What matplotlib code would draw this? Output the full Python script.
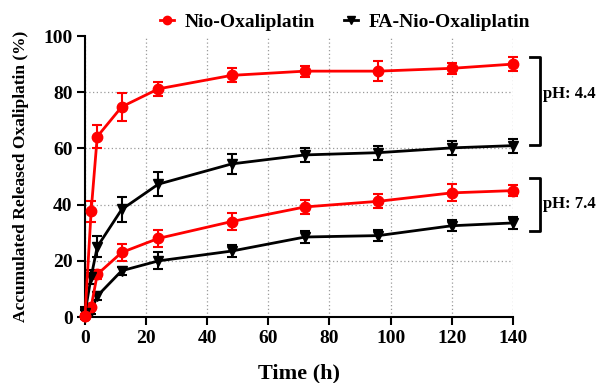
import matplotlib

matplotlib.use("Agg")
import matplotlib.pyplot as plt
from matplotlib.lines import Line2D

# Release data
time_h = [0, 2, 4, 12, 24, 48, 72, 96, 120, 140]

nio_ph44 = [0.5, 37.6, 64.2, 74.8, 81.2, 86.0, 87.5, 87.5, 88.5, 90.0]
nio_ph44_err = [0.5, 3.6, 4.0, 5.0, 2.6, 2.5, 2.0, 3.5, 2.0, 2.5]
fa_ph44 = [1.5, 14.3, 25.0, 38.3, 47.3, 54.5, 57.7, 58.5, 60.2, 61.0]
fa_ph44_err = [2.0, 2.5, 3.7, 4.5, 4.3, 3.5, 2.5, 2.5, 2.5, 2.5]

nio_ph74 = [0.5, 3.6, 15.2, 23.0, 28.0, 34.0, 39.2, 41.2, 44.2, 45.0]
nio_ph74_err = [0.5, 1.0, 1.5, 3.0, 3.0, 3.0, 2.5, 2.5, 3.0, 2.0]
fa_ph74 = [1.0, 2.0, 7.5, 16.5, 20.0, 23.5, 28.5, 29.0, 32.5, 33.5]
fa_ph74_err = [1.5, 1.0, 1.5, 1.5, 3.0, 2.0, 2.0, 2.0, 2.0, 2.0]

labels = ["Nio-Oxaliplatin", "FA-Nio-Oxaliplatin"]
x_ticks = [0, 20, 40, 60, 80, 100, 120, 140]
y_ticks = [0, 20, 40, 60, 80, 100]

plt.rcParams["font.family"] = ["Liberation Serif", "DejaVu Serif"]
plt.rcParams["font.weight"] = "bold"

fig = plt.figure(figsize=(5.97, 3.83), dpi=100)
ax = fig.add_axes([0.1424, 0.172, 0.7166, 0.734])

red = "#ff0000"
black = "#000000"
common = dict(linewidth=2, capsize=3.5, capthick=1.5, elinewidth=1.5, markersize=7.5,
              clip_on=False, zorder=3)

ax.errorbar(time_h, fa_ph74, yerr=fa_ph74_err, color=black, marker="v", **common)
ax.errorbar(time_h, nio_ph74, yerr=nio_ph74_err, color=red, marker="o", **common)
ax.errorbar(time_h, fa_ph44, yerr=fa_ph44_err, color=black, marker="v", **common)
ax.errorbar(time_h, nio_ph44, yerr=nio_ph44_err, color=red, marker="o", **common)

ax.set_xlim(0, 140)
ax.set_ylim(0, 100)
ax.set_xticks(x_ticks)
ax.set_yticks(y_ticks)
ax.tick_params(labelsize=14, width=1.5, length=6, direction="out", pad=3)
for lab in ax.get_xticklabels() + ax.get_yticklabels():
    lab.set_fontweight("bold")

for side in ["top", "right"]:
    ax.spines[side].set_visible(False)
for side in ["left", "bottom"]:
    ax.spines[side].set_linewidth(1.5)

ax.grid(True, linestyle=(0, (1, 2)), color="#9a9a9a", linewidth=0.9)
ax.yaxis.get_gridlines()[-1].set_visible(False)
ax.set_axisbelow(True)

ax.set_xlabel("Time (h)", fontsize=16, fontweight="bold", labelpad=12)
ax.set_ylabel("Accumulated Released Oxaliplatin (%)", fontsize=12.5, fontweight="bold",
              labelpad=10.5)

handles = [
    Line2D([], [], color=red, marker="o", markersize=6, linewidth=2),
    Line2D([], [], color=black, marker="v", markersize=6, linewidth=2),
]
ax.legend(handles=handles, labels=labels, loc="center", bbox_to_anchor=(0.608, 1.05),
          ncol=2, frameon=False, fontsize=14, handlelength=0.7, handletextpad=0.55,
          columnspacing=1.5, borderaxespad=0, borderpad=0)

# pH brackets
for top, bottom, text, ty in [(92.5, 61.4, "pH: 4.4", 79.5), (49.5, 30.5, "pH: 7.4", 40.3)]:
    ax.plot([145.6, 148.8, 148.8, 145.6], [top, top, bottom, bottom],
            color="black", linewidth=2, clip_on=False)
    ax.text(149.8, ty, text, fontsize=12, fontweight="bold", va="center", ha="left")

fig.savefig("out.png", dpi=100)
